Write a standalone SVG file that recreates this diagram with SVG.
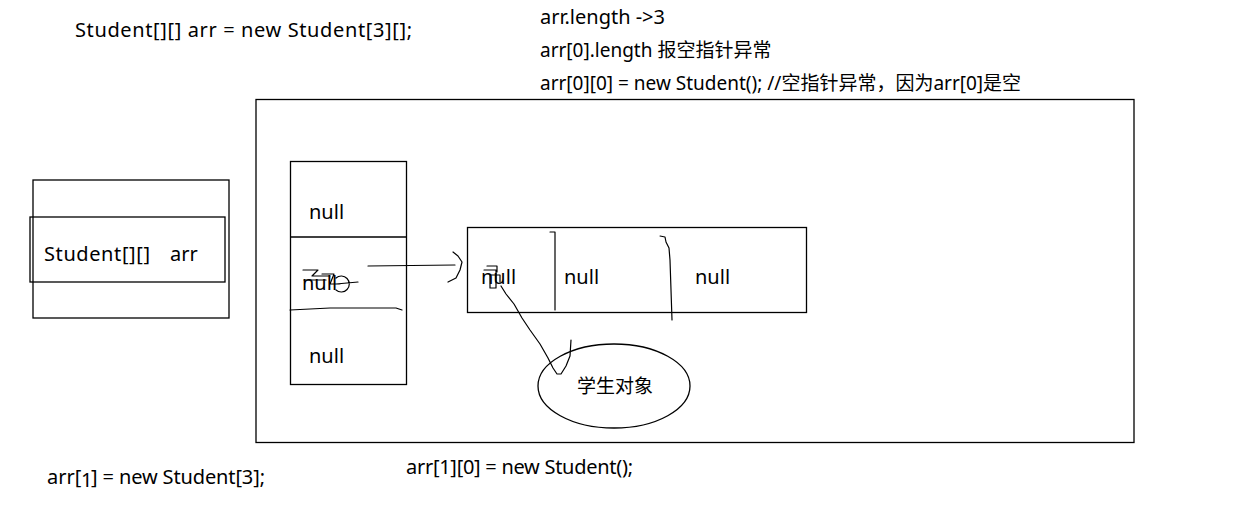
<svg xmlns="http://www.w3.org/2000/svg" width="1254" height="526" viewBox="0 0 1254 526">
<style>
text{font-family:"Noto Sans","Noto Sans CJK SC",sans-serif;font-size:20px;fill:#000}
.cjk{font-size:19px}
.box{fill:none;stroke:#000;stroke-width:1.3}
.hand{fill:none;stroke:#000;stroke-width:1.2;stroke-linecap:round;stroke-linejoin:round}
</style>
<rect width="1254" height="526" fill="#fff"/>
<g id="texts">
<text x="75" y="37" font-size="21" textLength="337" lengthAdjust="spacing">Student[][] arr = new Student[3][];</text>
<text x="540" y="24" textLength="125" lengthAdjust="spacing">arr.length -&gt;3</text>
<text class="cjk" x="540" y="57">arr[0].length 报空指针异常</text>
<text class="cjk" x="540" y="90">arr[0][0] = new Student(); //空指针异常，因为arr[0]是空</text>
<text x="406" y="474" textLength="227" lengthAdjust="spacing">arr[1][0] = new Student();</text>
<text x="47" y="484">arr[</text>
<text x="81" y="487" font-size="18">1</text>
<text x="91" y="484" textLength="174" lengthAdjust="spacing">] = new Student[3];</text>
</g>
<g id="heap">
<rect class="box" x="256" y="99.5" width="878" height="343"/>
</g>
<g id="stack-var">
<rect class="box" x="33" y="180" width="196" height="138"/>
<rect class="box" x="30" y="217" width="195" height="65"/>
<text x="44" y="261" textLength="106" lengthAdjust="spacing">Student[][]</text>
<text x="170" y="261">arr</text>
</g>
<g id="outer-array">
<rect class="box" x="290.5" y="161.5" width="116" height="223"/>
<line class="box" x1="290" y1="237" x2="406" y2="237"/>
<path class="hand" d="M290 310 L330 308 L396 308 L402 310"/>
<text x="309" y="219">null</text>
<text x="302" y="290">null</text>
<path class="hand" d="M303 270 L318 270 L312 276 L330 276 M304 280 L326 280 M322 274 L334 274 L330 284 L340 284 M336 278 A8 8 0 1 1 336 290 M336 284 L358 282"/>
<text x="309" y="363">null</text>
</g>
<g id="inner-array">
<rect class="box" x="467.5" y="227.5" width="339" height="85"/>
<path class="hand" d="M550 232 L555 232 L555 310"/>
<path class="hand" d="M660 236 L665 237 L666 242 L669 248 L670 260 L671 290 L672 320"/>
<text x="481" y="284">null</text>
<text x="564" y="284">null</text>
<text x="695" y="284">null</text>
<path class="hand" d="M484 270 L496 270 L496 288 L490 288 L490 275 L500 275 L500 282 M487 266 L497 266 L497 272"/>
</g>
<g id="student-object">
<ellipse class="box" cx="614" cy="386" rx="76" ry="42"/>
<text class="cjk" x="577" y="393">学生对象</text>
</g>
<g id="connectors">
<path class="hand" d="M368 266 L455 265"/>
<path class="hand" d="M453 252 L458 256 L462 262 L460 270 L456 278 L448 282"/>
<path class="hand" d="M501 286 L506 294 L514 304 L522 318 L530 330 L540 344 L548 358 L553 368 L557 374 L561 374 L566 366 L570 356 L571 340"/>
</g>
</svg>
